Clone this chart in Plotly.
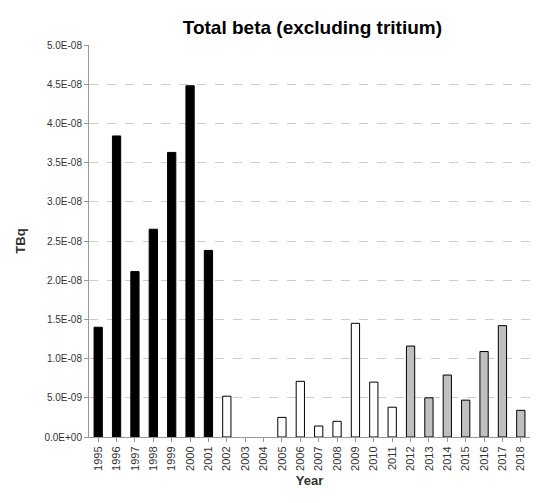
import plotly.graph_objects as go

years = [str(y) for y in range(1995, 2019)]
values = [1.40e-8, 3.84e-8, 2.11e-8, 2.65e-8, 3.63e-8, 4.48e-8, 2.38e-8,
          5.2e-9, 0, 0, 2.5e-9, 7.1e-9, 1.4e-9, 2.0e-9, 1.45e-8, 7.0e-9, 3.8e-9,
          1.16e-8, 5.0e-9, 7.9e-9, 4.7e-9, 1.09e-8, 1.42e-8, 3.4e-9]
colors = ["black"] * 7 + ["white"] * 10 + ["#bfbfbf"] * 7
line_widths = [1 if v > 0 else 0 for v in values]

tickvals = [i * 5e-9 for i in range(11)]
ticktext = ["0.0E+00", "5.0E-09"] + ["%.1fE-08" % (v / 1e-8) for v in tickvals[2:]]

fig = go.Figure(go.Bar(
    x=years, y=values, width=0.45,
    marker=dict(color=colors, line=dict(color="black", width=line_widths)),
))
fig.update_layout(
    width=534, height=490,
    paper_bgcolor="white", plot_bgcolor="white",
    margin=dict(l=79, r=12, t=37, b=58),
    font=dict(family="Liberation Sans", color="#333", size=10),
    title=dict(text="<b>Total beta (excluding tritium)</b>", x=0.57, y=0.975,
               font=dict(size=19, color="black")),
    showlegend=False,
)
fig.update_xaxes(title=dict(text="<b>Year</b>", font=dict(size=13, color="#333"), standoff=6),
                 tickangle=-90, showline=True, linecolor="#999", ticks="outside",
                 tickcolor="#999", ticklen=4, tickfont=dict(size=11))
fig.update_yaxes(title=dict(text="<b>TBq</b>", font=dict(size=13, color="#333")),
                 range=[0, 5e-8], tickvals=tickvals, ticktext=ticktext, tickfont=dict(size=10),
                 showgrid=True, gridcolor="#ccc", griddash="dash",
                 showline=True, linecolor="#999", ticks="outside", tickcolor="#999", ticklen=4)
fig.write_html("out.html")
